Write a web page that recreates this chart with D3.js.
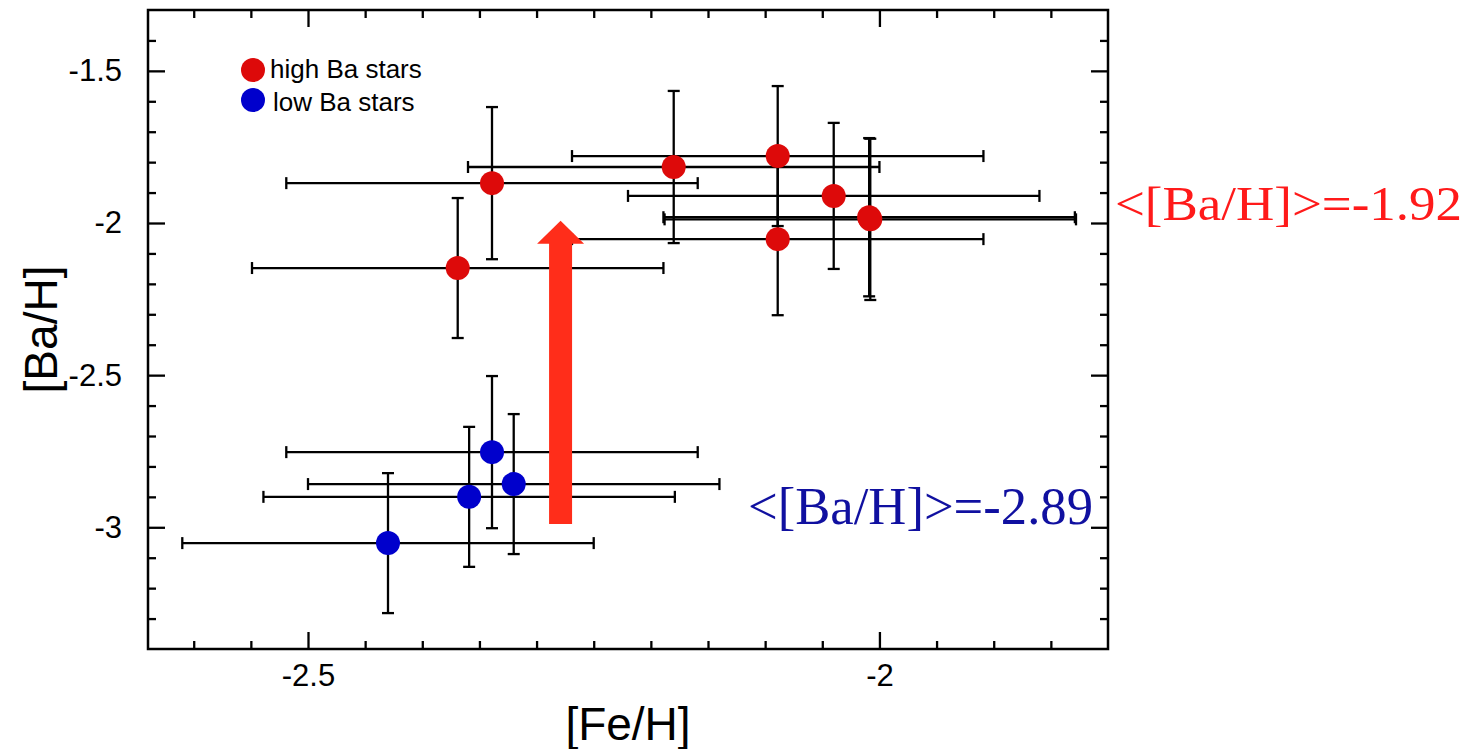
<!DOCTYPE html>
<html>
<head>
<meta charset="utf-8">
<script src="https://cdn.jsdelivr.net/npm/d3@7"></script>
<style>
  body { margin: 0; background: #fff; }
  text { font-family: "Liberation Sans", Arial, Helvetica, sans-serif; }
</style>
</head>
<body>
<svg id="chart" width="1479" height="749"></svg>
<script>
// high Ba stars
var highFe    = [-2.339, -2.369, -2.180, -2.089, -2.089, -2.040, -2.009, -2.008];
var highBa    = [-1.869, -2.148, -1.816, -1.780, -2.053, -1.911, -1.981, -1.988];
var highFeErr = [0.18, 0.18, 0.18, 0.18, 0.18, 0.18, 0.18, 0.18];
var highBaErr = [0.25, 0.23, 0.25, 0.23, 0.25, 0.24, 0.26, 0.265];

// low Ba stars
var lowFe    = [-2.339, -2.320, -2.359, -2.430];
var lowBa    = [-2.753, -2.858, -2.900, -3.052];
var lowFeErr = [0.18, 0.18, 0.18, 0.18];
var lowBaErr = [0.25, 0.23, 0.23, 0.23];

// axes
var xDomain = [-2.64, -1.80];
var yDomain = [-3.4, -1.3];
var xMajor = [-2.5, -2];
var xMinor = [-2.6, -2.55, -2.45, -2.4, -2.35, -2.3, -2.25, -2.2, -2.15, -2.1, -2.05, -1.95, -1.9, -1.85];
var yMajor = [-3, -2.5, -2, -1.5];
var yMinor = [-3.3, -3.2, -3.1, -2.9, -2.8, -2.7, -2.6, -2.4, -2.3, -2.2, -2.1, -1.9, -1.8, -1.7, -1.6, -1.4];

// arrow and mean labels
var arrowFe = -2.279, arrowFrom = -2.989, arrowTo = -1.993;
var meanHigh = '<[Ba/H]>=-1.92';
var meanLow = '<[Ba/H]>=-2.89';

(function () {
    var svg = d3.select('#chart');
    var pl = 148, pr = 1108, pt = 10, pb = 649;

    var x = d3.scaleLinear().domain(xDomain).range([pl, pr]);
    var y = d3.scaleLinear().domain(yDomain).range([pb, pt]);

    var fmt = function (d) { return String(d); };

    function drawAxis(axis, tr, vals, size, withLabels, pad) {
        var g = svg.append('g').attr('transform', tr)
            .call(axis.tickValues(vals).tickSize(size).tickPadding(pad || 3)
                .tickFormat(withLabels ? fmt : ''));
        g.select('.domain').remove();
        g.selectAll('.tick line').attr('stroke', '#000').attr('stroke-width', 2.3);
        g.selectAll('.tick text').attr('fill', '#000').style('font-size', '31px')
            .style('font-family', '"Liberation Sans", Arial, sans-serif');
        return g;
    }

    // ticks point inward on all four sides
    drawAxis(d3.axisBottom(x), 'translate(0,' + pb + ')', xMinor, -8, false);
    drawAxis(d3.axisBottom(x), 'translate(0,' + pb + ')', xMajor, -17, true, 15);
    drawAxis(d3.axisTop(x), 'translate(0,' + pt + ')', xMinor, -8, false);
    drawAxis(d3.axisTop(x), 'translate(0,' + pt + ')', xMajor, -17, false);
    drawAxis(d3.axisLeft(y), 'translate(' + pl + ',0)', yMinor, -8, false);
    drawAxis(d3.axisLeft(y), 'translate(' + pl + ',0)', yMajor, -17, true, 26);
    drawAxis(d3.axisRight(y), 'translate(' + pr + ',0)', yMinor, -8, false);
    drawAxis(d3.axisRight(y), 'translate(' + pr + ',0)', yMajor, -17, false);

    svg.append('rect')
        .attr('x', pl).attr('y', pt)
        .attr('width', pr - pl).attr('height', pb - pt)
        .attr('fill', 'none').attr('stroke', '#000').attr('stroke-width', 2.5);

    // axis titles
    svg.append('text')
        .attr('x', (pl + pr) / 2).attr('y', 740)
        .attr('text-anchor', 'middle')
        .style('font-size', '46px')
        .text('[Fe/H]');
    svg.append('text')
        .attr('transform', 'translate(57,' + ((pt + pb) / 2) + ') rotate(-90)')
        .attr('text-anchor', 'middle')
        .style('font-size', '46px')
        .text('[Ba/H]');

    function makePoints(fe, ba, feErr, baErr) {
        return fe.map(function (v, i) {
            return { fe: v, ba: ba[i], fe_e: feErr[i], ba_e: baErr[i] };
        });
    }
    var high = makePoints(highFe, highBa, highFeErr, highBaErr);
    var low = makePoints(lowFe, lowBa, lowFeErr, lowBaErr);
    var all = high.concat(low);

    // error bars
    var cap = 6;
    var eb = svg.append('g').attr('stroke', '#000').attr('stroke-width', 2.3);
    all.forEach(function (d) {
        var cx = x(d.fe), cy = y(d.ba);
        var x0 = x(d.fe - d.fe_e), x1 = x(d.fe + d.fe_e);
        var y0 = y(d.ba + d.ba_e), y1 = y(d.ba - d.ba_e);
        eb.append('line').attr('x1', x0).attr('x2', x1).attr('y1', cy).attr('y2', cy);
        eb.append('line').attr('x1', cx).attr('x2', cx).attr('y1', y0).attr('y2', y1);
        eb.append('line').attr('x1', x0).attr('x2', x0).attr('y1', cy - cap).attr('y2', cy + cap);
        eb.append('line').attr('x1', x1).attr('x2', x1).attr('y1', cy - cap).attr('y2', cy + cap);
        eb.append('line').attr('x1', cx - cap).attr('x2', cx + cap).attr('y1', y0).attr('y2', y0);
        eb.append('line').attr('x1', cx - cap).attr('x2', cx + cap).attr('y1', y1).attr('y2', y1);
    });

    // markers
    svg.append('g').selectAll('circle').data(high).enter()
        .append('circle')
        .attr('cx', function (d) { return x(d.fe); })
        .attr('cy', function (d) { return y(d.ba); })
        .attr('r', 12)
        .attr('fill', '#dd0a0a');
    svg.append('g').selectAll('circle').data(low).enter()
        .append('circle')
        .attr('cx', function (d) { return x(d.fe); })
        .attr('cy', function (d) { return y(d.ba); })
        .attr('r', 12)
        .attr('fill', '#0000cc');

    // arrow
    var ax = x(arrowFe), ay0 = y(arrowFrom), ay1 = y(arrowTo);
    var shaft = 11.5, head = 23.5, headLen = 23;
    svg.append('path')
        .attr('d', 'M' + (ax - shaft) + ',' + ay0 +
            'L' + (ax - shaft) + ',' + (ay1 + headLen) +
            'L' + (ax - head) + ',' + (ay1 + headLen) +
            'L' + ax + ',' + ay1 +
            'L' + (ax + head) + ',' + (ay1 + headLen) +
            'L' + (ax + shaft) + ',' + (ay1 + headLen) +
            'L' + (ax + shaft) + ',' + ay0 + 'Z')
        .attr('fill', '#ff2d1a');

    // legend
    var legend = svg.append('g');
    legend.append('circle').attr('cx', 253).attr('cy', 70).attr('r', 12).attr('fill', '#dd0a0a');
    legend.append('circle').attr('cx', 253).attr('cy', 100).attr('r', 12).attr('fill', '#0000cc');
    legend.append('text').attr('x', 270).attr('y', 78).style('font-size', '26px').text('high Ba stars');
    legend.append('text').attr('x', 273).attr('y', 111).style('font-size', '26px').text('low Ba stars');

    // mean values
    svg.append('text')
        .attr('x', 1115).attr('y', 220)
        .attr('textLength', 347).attr('lengthAdjust', 'spacingAndGlyphs')
        .style('font-family', '"Liberation Serif", "Times New Roman", serif')
        .style('font-size', '49px')
        .attr('fill', '#ff1a1a')
        .text(meanHigh);
    svg.append('text')
        .attr('x', 748).attr('y', 524)
        .attr('textLength', 345).attr('lengthAdjust', 'spacingAndGlyphs')
        .style('font-family', '"Liberation Serif", "Times New Roman", serif')
        .style('font-size', '53px')
        .attr('fill', '#1010a0')
        .text(meanLow);
})();
</script>
</body>
</html>
